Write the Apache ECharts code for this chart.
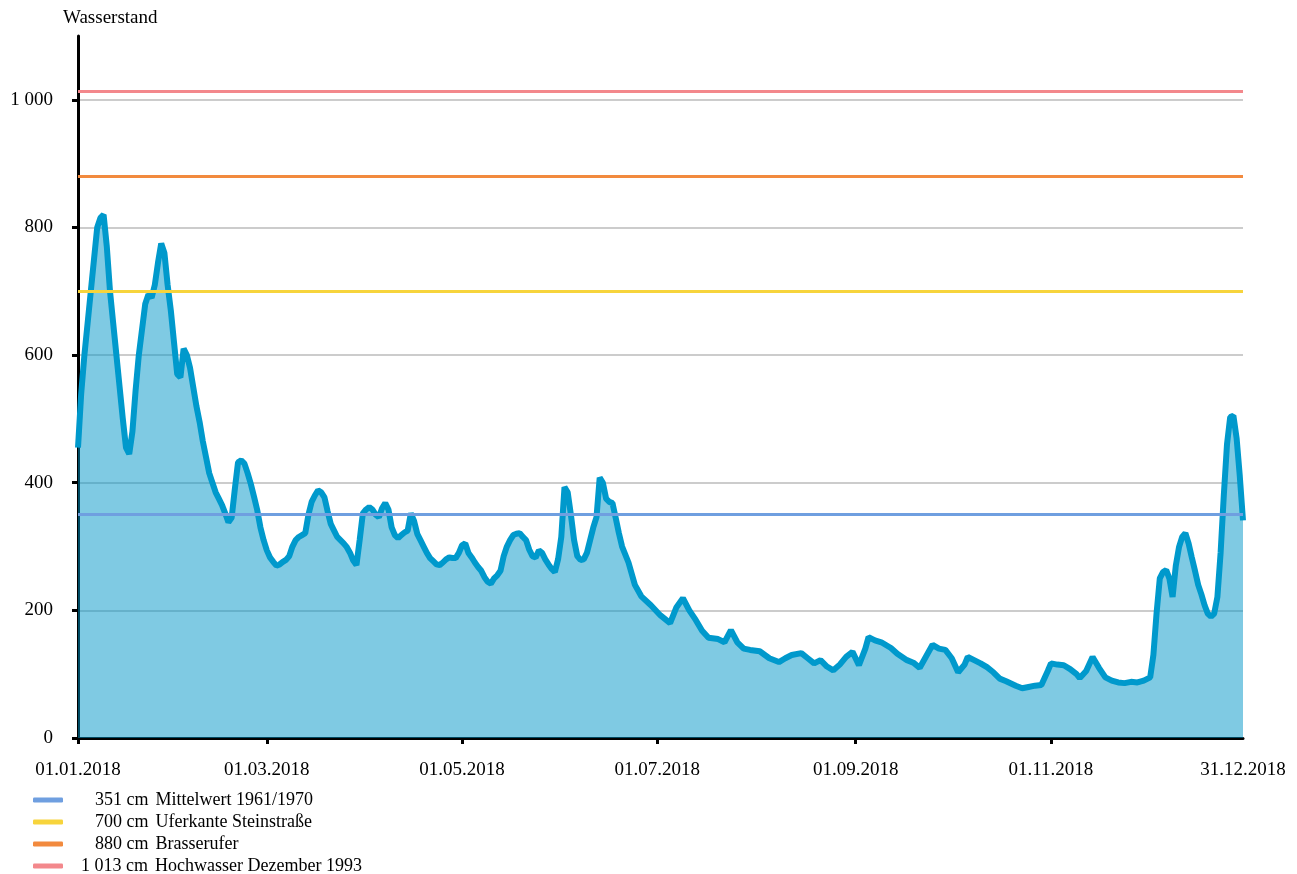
<!DOCTYPE html>
<html>
<head>
<meta charset="utf-8">
<script src="https://cdn.jsdelivr.net/npm/echarts@6/dist/echarts.min.js"></script>
<style>
  html, body { margin: 0; padding: 0; background: #fff; }
  #main { width: 1297px; height: 874px; }
</style>
</head>
<body>
<div id="main"></div>
<script>
'use strict'
// Wasserstand 2018 (day of year -> cm)

var sampleDays = [0, 1, 2, 3, 4, 5, 6, 7, 8, 9, 10, 11, 12, 13, 14, 15, 16, 17, 18, 19,
    20, 21, 22, 23, 24, 25, 26, 27, 28, 29, 30, 31, 32, 33, 34, 35, 36, 37, 38, 39,
    40, 41, 42, 43, 44, 45, 46, 47, 48, 49, 50, 51, 52, 53, 54, 55, 56, 57, 58, 59,
    60, 61, 62, 63, 64, 65, 66, 67, 68, 69, 70, 71, 72, 73, 74, 75, 76, 77, 78, 79,
    80, 81, 82, 83, 84, 85, 86, 87, 88, 89, 90, 91, 92, 93, 94, 95, 96, 97, 98, 99,
    100, 101, 102, 103, 104, 105, 106, 107, 108, 109, 110, 111, 112, 113, 114, 115, 116, 117, 118, 119,
    120, 121, 122, 123, 124, 125, 126, 127, 128, 129, 130, 131, 132, 133, 134, 135, 136, 137, 138, 139,
    140, 141, 142, 143, 144, 145, 146, 147, 148, 149, 150, 151, 152, 153, 154, 155, 156, 157, 158, 159,
    160, 161, 162, 163, 164, 165, 166, 167, 168, 169, 170,
    172, 174, 176, 179, 182, 185, 187, 189, 191, 193, 195, 197, 200, 202, 204, 206, 208, 210,
    213, 216, 219, 221, 223, 226, 228, 230, 232, 234, 236, 238, 240, 242, 244, 246, 247, 249,
    251, 254, 256, 259, 261, 263, 265, 267, 269, 271, 273, 275, 277, 278, 280, 282, 284, 286,
    288, 290, 293, 295, 297, 299, 301, 303, 304, 306, 308, 310, 312, 313, 315, 317, 319, 321,
    323, 325, 327, 329, 331, 333, 335, 336, 337, 338, 339, 340, 341, 342, 343, 344, 345, 346,
    347, 348, 349, 350, 351, 352, 353, 354, 355, 356, 357, 358, 359, 360, 361, 362, 363, 364];

var levels = [455, 540, 600, 650, 700, 750, 800, 815, 820, 770, 700, 650, 600, 550, 500, 455, 445, 480, 545, 600,
    640, 680, 695, 690, 710, 745, 775, 760, 710, 670, 620, 570, 565, 610, 600, 580, 550, 520, 495, 465,
    440, 415, 400, 385, 375, 365, 352, 338, 345, 390, 432, 435, 430, 415, 398, 378, 357, 330, 310, 294,
    283, 276, 270, 272, 276, 279, 285, 300, 310, 315, 318, 321, 350, 370, 380, 388, 385, 377, 355, 335,
    325, 315, 310, 305, 299, 290, 278, 271, 310, 352, 358, 362, 358, 350, 346, 360, 368, 358, 330, 318,
    313, 318, 322, 325, 352, 340, 320, 310, 300, 290, 282, 277, 272, 271, 275, 280, 283, 282, 282, 290,
    302, 305, 290, 283, 275, 268, 262, 252, 245, 242, 250, 255, 262, 285, 300, 310, 318, 320, 321, 315,
    310, 295, 285, 283, 294, 290, 280, 272, 265, 260, 280, 315, 393, 385, 350, 310, 285, 279, 280, 290,
    310, 330, 346, 408, 400, 375, 370, 368, 345, 321, 300,
    275, 240, 222, 208, 192, 180, 205, 219, 200, 185, 168, 157, 155, 150, 169, 150, 140, 138,
    136, 125, 119, 125, 130, 133, 125, 117, 122, 112, 106, 115, 127, 135, 114, 140, 158, 153,
    150, 141, 132, 122, 118, 110, 128, 146, 140, 138, 125, 103, 115, 127, 122, 117, 111, 103,
    93, 89, 82, 78, 80, 82, 83, 105, 117, 115, 114, 108, 100, 94, 105, 127, 110, 95,
    90, 87, 86, 88, 87, 90, 95, 130, 196, 250, 260, 263, 250, 221, 270, 299, 315, 321,
    305, 283, 262, 240, 225, 208, 195, 190, 195, 221, 290, 380, 460, 503, 505, 470, 410, 341];

var refNumbers = ['351 cm', '700 cm', '880 cm', '1 013 cm'];
var refTexts = ['Mittelwert 1961/1970', 'Uferkante Steinstraße', 'Brasserufer', 'Hochwasser Dezember 1993'];
var refValues = [351, 700, 880, 1013];
var refColors = ['#6f9fe0', '#f7d43c', '#f28a3e', '#f3888c'];

var labelDays = [0, 59, 120, 181, 243, 304, 364];
var yTicks = [0, 200, 400, 600, 800, 1000];

// categories: every day of 2018
var dates = [];
for (var i = 0; i < 365; i++) {
    var d = new Date(Date.UTC(2018, 0, 1 + i));
    var dd = ('0' + d.getUTCDate()).slice(-2);
    var mm = ('0' + (d.getUTCMonth() + 1)).slice(-2);
    dates.push(dd + '.' + mm + '.2018');
}

var levelData = sampleDays.map(function (day, k) { return [day, levels[k]]; });

// measure legend numbers so they line up on the right
var ctx = document.createElement('canvas').getContext('2d');
ctx.font = '18px "Liberation Serif"';
var numBox = 80;

var series = [{
    name: 'Wasserstand',
    type: 'line',
    data: levelData,
    showSymbol: false,
    symbol: 'none',
    lineStyle: { color: '#0099cc', width: 6 },
    areaStyle: { color: '#0096c8', opacity: 0.5 },
    z: 2
}];

refValues.forEach(function (v, k) {
    series.push({
        name: refNumbers[k] + ' ' + refTexts[k],
        type: 'line',
        data: [],
        color: refColors[k],
        z: 3,
        markLine: {
            silent: true,
            symbol: 'none',
            label: { show: false },
            lineStyle: { color: refColors[k], width: 3, type: 'solid' },
            data: [{ yAxis: v }]
        }
    });
});

var legendRich = { t: { padding: [0, 0, 0, 7], fontSize: 18, fontFamily: 'Liberation Serif', color: '#000' } };
refNumbers.forEach(function (n, k) {
    legendRich['s' + k] = {
        padding: [0, 0, 0, Math.max(0, Math.round(numBox - ctx.measureText(n).width))],
        fontSize: 18, fontFamily: 'Liberation Serif', color: '#000'
    };
});

var option = {
    animation: false,
    textStyle: { fontFamily: 'Liberation Serif', color: '#000' },
    grid: { left: 78, right: 54, top: 36, bottom: 136 },
    legend: {
        orient: 'vertical',
        left: 33,
        top: 789,
        height: 90,
        padding: 0,
        itemWidth: 30,
        itemHeight: 5,
        itemGap: 0,
        icon: 'roundRect',
        selectedMode: false,
        data: refNumbers.map(function (n, k) { return n + ' ' + refTexts[k]; }),
        formatter: function (name) {
            var k = refTexts.findIndex(function (t) { return name.indexOf(t) >= 0; });
            return '{s' + k + '|' + refNumbers[k] + '}{t|' + refTexts[k] + '}';
        },
        textStyle: {
            fontFamily: 'Liberation Serif',
            fontSize: 18,
            lineHeight: 22,
            color: '#000',
            rich: legendRich
        }
    },
    xAxis: {
        type: 'category',
        data: dates,
        boundaryGap: false,
        axisLine: { lineStyle: { color: '#000', width: 3 } },
        axisTick: {
            length: 6,
            lineStyle: { color: '#000', width: 3 },
            interval: function (idx) { return labelDays.indexOf(idx) >= 0 && idx < 364; }
        },
        axisLabel: {
            fontSize: 19,
            margin: 23,
            color: '#000',
            interval: function (idx) { return labelDays.indexOf(idx) >= 0; }
        },
        splitLine: { show: false }
    },
    yAxis: {
        type: 'value',
        min: 0,
        max: 1100,
        interval: 200,
        name: 'Wasserstand',
        nameLocation: 'end',
        nameGap: 8,
        nameTextStyle: { fontSize: 19, color: '#000', align: 'left', padding: [0, 0, 0, -15] },
        axisLine: { show: true, lineStyle: { color: '#000', width: 3 } },
        axisTick: { show: true, length: 6, lineStyle: { color: '#000', width: 3 }, customValues: yTicks },
        axisLabel: {
            fontSize: 19,
            margin: 25,
            color: '#000',
            customValues: yTicks,
            formatter: function (v) { return v >= 1000 ? '1 000' : String(v); }
        },
        splitLine: {
            lineStyle: {
                color: ['#cccccc', '#cccccc', '#cccccc', '#cccccc', '#cccccc', '#cccccc', 'rgba(0,0,0,0)'],
                width: 2
            }
        }
    },
    series: series
};

var myChart = echarts.init(document.getElementById('main'));
myChart.setOption(option);
</script>
</body>
</html>
